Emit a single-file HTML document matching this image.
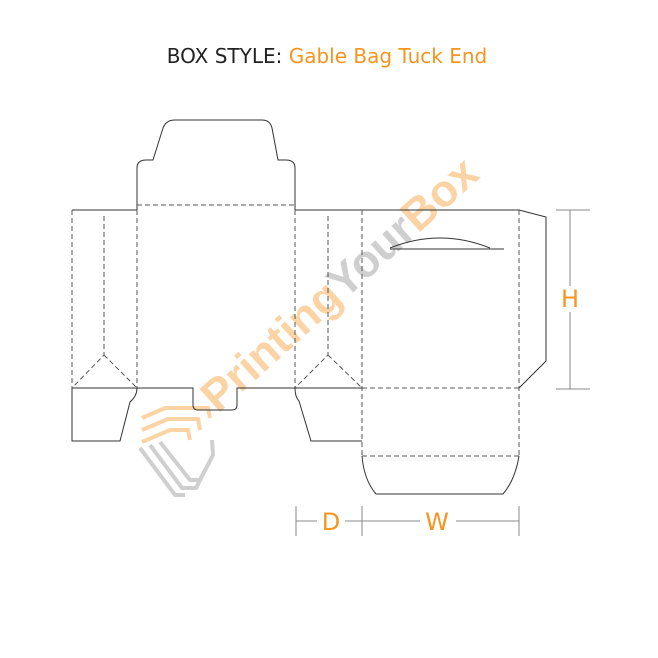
<!DOCTYPE html>
<html><head><meta charset="utf-8"><style>
html,body{margin:0;padding:0;background:#fff;width:658px;height:658px;overflow:hidden}
svg{display:block}
</style></head><body>
<svg width="658" height="658" viewBox="0 0 658 658" xmlns="http://www.w3.org/2000/svg">
<text x="327" y="63" text-anchor="middle" font-family="DejaVu Sans, sans-serif" font-size="20" fill="#222">BOX STYLE: <tspan fill="#f7941d">Gable Bag Tuck End</tspan></text>

<!-- watermark -->
<g opacity="0.4">
<text transform="translate(218,414) rotate(-42)" font-family="Liberation Sans, sans-serif" font-weight="bold" font-size="45" fill="#f7941d">Printing<tspan fill="#888">Your</tspan>Box</text>
<g fill="none" stroke="#f7941d" stroke-width="4">
<polyline points="142,418 165,408 208,408 210,418"/>
<polyline points="142,430 168,419 198,419 200,430"/>
<polyline points="142,442 170,430 188,430 190,440"/>
</g>
<g fill="none" stroke="#888" stroke-width="4">
<polyline points="140,448 175,495 185,495"/>
<polyline points="150,445 182,488 196,488 205,470"/>
<polyline points="160,442 190,480 200,480 213,455 212,440"/>
</g>
</g>

<g fill="none" stroke="#333" stroke-width="1">
<path d="M72,210 H137 V168 Q137,160 146,160 H153 L163,128 Q166,120 175,120 H262 Q270,120 272,128 L278,160 H286 Q295,160 295,168 V210 H519 L546,217 V361 L519,388"/>
<path d="M72,388 H137"/>
<path d="M72,388 V441 H120 L130,402 Q137,396 137,388"/>
<path d="M137,388 H193 V405 Q193,410 198,410 H232 Q237,410 237,405 V388 H295"/>
<path d="M295,388 Q295,397 299,401 L311,441 H362"/>
<path d="M295,388 H362"/>
<path d="M362,456 Q364,480 376,494 H503 Q515,480 519,456"/>
<path d="M390,249 H504"/>
<path d="M390,248 Q440,228 490,248"/>
</g>
<g fill="none" stroke="#555" stroke-width="1" stroke-dasharray="5,3">
<path d="M72,210 V388"/>
<path d="M104,216 V355 L72,388 M104,355 L137,388"/>
<path d="M137,205 H295"/>
<path d="M137,210 V388 M295,210 V388"/>
<path d="M328,216 V355 L295,388 M328,355 L362,388"/>
<path d="M362,210 V456 M519,210 V456"/>
<path d="M362,388 H519 M362,456 H519"/>
</g>

<g stroke="#888" stroke-width="1" fill="none">
<path d="M556,210 H590 M556,389 H590 M570,210 V286 M570,312 V389"/>
<path d="M296,506 V536 M362,506 V536 M519,506 V536"/>
<path d="M296,521 H317 M345,521 H362 M362,521 H420 M456,521 H519"/>
</g>
<g font-family="DejaVu Sans, sans-serif" font-size="24" fill="#f7941d" text-anchor="middle">
<text x="570" y="307">H</text>
<text x="331" y="530">D</text>
<text x="437" y="530">W</text>
</g>
</svg>
</body></html>
